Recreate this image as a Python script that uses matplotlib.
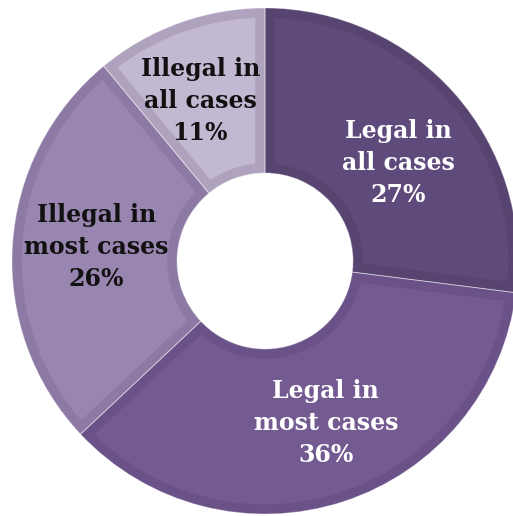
import matplotlib
matplotlib.use("Agg")
import matplotlib.pyplot as plt
from matplotlib.patches import Wedge
import numpy as np

labels = ["Legal in\nall cases", "Legal in\nmost cases", "Illegal in\nmost cases", "Illegal in\nall cases"]
values = [27, 36, 26, 11]
fill_colors = ["#5f4b7b", "#735b92", "#9886b0", "#c2b8d2"]
edge_colors = ["#574470", "#6a5288", "#8c7aa4", "#aea2bf"]
text_colors = ["white", "white", "#111111", "#111111"]
# small manual nudges of label positions (in pixels, x right / y up)
label_nudge = [(5, -15), (8, 0), (2, 3), (-7, -1)]

W, H = 513, 516
cx, cy, R = 265, 261, 253
inner = 88 / R

fig = plt.figure(figsize=(W / 100, H / 100), dpi=100)
ax = fig.add_axes([0, 0, 1, 1])
wedges, _ = ax.pie(values, startangle=90, counterclock=False, radius=1,
                   wedgeprops=dict(width=1 - inner, linewidth=0))
ax.set_xlim(-cx / R, (W - cx) / R)
ax.set_ylim(-(H - cy) / R, cy / R)
ax.set_aspect("equal")
ax.axis("off")

for w, fc, ec in zip(wedges, fill_colors, edge_colors):
    w.set_facecolor(fc)
    w.set_edgecolor(ec)
    w.set_linewidth(14)
    clip = Wedge(w.center, w.r, w.theta1, w.theta2, width=w.width,
                 transform=ax.transData)
    w.set_clip_on(True)
    w.set_clip_path(clip)
    # thin light separator around each slice
    sep = Wedge(w.center, w.r, w.theta1, w.theta2, width=w.width,
                facecolor="none", edgecolor="white", linewidth=0.6, alpha=0.45)
    ax.add_patch(sep)

r_lab = 0.675
for w, lab, v, tc, (nx, ny) in zip(wedges, labels, values, text_colors, label_nudge):
    mid = np.deg2rad((w.theta1 + w.theta2) / 2)
    ax.text(r_lab * np.cos(mid) + nx / R, r_lab * np.sin(mid) + ny / R, f"{lab}\n{v}%",
            ha="center", va="center", color=tc, fontsize=17,
            fontweight="bold", family="DejaVu Serif", linespacing=1.42)

fig.savefig("out.png", dpi=100)
